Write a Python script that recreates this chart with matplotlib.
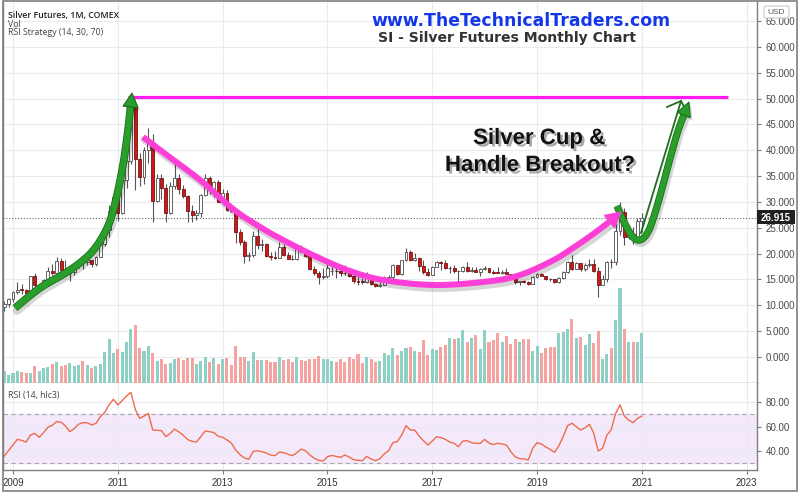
import numpy as np
import pandas as pd
import matplotlib
matplotlib.use('Agg')
import matplotlib.pyplot as plt
import matplotlib.patheffects as pe
from matplotlib.patches import Polygon, Rectangle, FancyBboxPatch

# ---------------- data ----------------
months = pd.date_range('2008-11-01', periods=147, freq='MS')

opens = [9.70, 10.25, 11.30, 12.60, 13.05, 13.00, 12.45, 15.60, 13.90, 14.00, 14.90, 16.65,
         16.30, 18.60, 16.90, 16.20, 16.45, 17.55, 18.65, 18.40, 18.75, 18.00, 19.40, 21.80,
         24.65, 28.20, 30.90, 27.90, 34.25, 37.90, 48.60, 38.30, 34.90, 40.10, 41.70, 30.10,
         34.70, 32.80, 27.90, 33.10, 34.60, 32.50, 31.20, 28.30, 27.40, 27.80, 31.30, 34.60,
         32.30, 33.80, 30.00, 31.80, 28.40, 28.30, 24.10, 22.30, 19.50, 19.70, 23.50, 21.70,
         21.90, 19.50, 19.40, 19.20, 21.30, 19.70, 19.00, 18.90, 21.00, 20.40, 19.50, 17.10,
         16.20, 15.50, 15.60, 16.60, 16.70, 16.60, 16.30, 16.20, 15.60, 14.70, 14.60, 14.50,
         15.50, 14.10, 13.80, 14.00, 14.90, 15.40, 17.80, 16.00, 18.70, 20.30, 18.70, 19.20,
         17.70, 16.50, 15.90, 17.50, 18.40, 18.20, 17.20, 17.30, 16.60, 16.70, 17.50, 16.70,
         16.75, 16.50, 17.00, 17.20, 16.40, 16.30, 16.25, 16.40, 16.10, 15.50, 14.60, 14.70,
         14.60, 14.20, 15.50, 16.10, 15.60, 15.10, 15.00, 14.60, 15.30, 16.40, 18.40, 17.00,
         18.10, 17.00, 17.90, 18.00, 16.60, 14.00, 15.10, 18.40, 18.30, 24.30, 28.00, 23.30,
         23.90, 22.60, 26.40]
highs = [10.90, 11.45, 12.75, 14.55, 14.10, 13.20, 15.70, 16.20, 14.20, 15.05, 17.45, 18.05,
         19.30, 19.20, 18.85, 16.60, 17.80, 18.85, 19.65, 19.35, 18.85, 19.55, 21.95, 24.90,
         29.35, 31.00, 31.30, 34.40, 38.15, 49.80, 48.70, 39.40, 40.60, 44.30, 43.20, 35.40,
         35.40, 33.50, 33.90, 37.50, 35.40, 33.20, 31.40, 29.40, 28.40, 31.50, 35.40, 35.00,
         34.10, 34.20, 32.50, 32.40, 29.40, 28.40, 24.70, 22.60, 20.30, 24.30, 25.10, 22.80,
         22.00, 20.30, 20.60, 22.20, 21.80, 20.30, 19.80, 21.30, 21.60, 20.80, 19.70, 17.70,
         16.70, 17.30, 18.50, 17.40, 17.30, 16.90, 17.80, 16.80, 15.80, 15.60, 15.20, 16.40,
         15.60, 14.40, 14.60, 15.60, 15.90, 18.00, 17.90, 18.80, 21.10, 20.70, 20.10, 19.30,
         18.80, 17.30, 17.60, 18.50, 18.50, 18.70, 17.60, 17.80, 16.90, 17.70, 18.30, 17.40,
         17.40, 17.20, 17.70, 17.30, 16.90, 17.40, 16.80, 17.30, 16.10, 15.60, 14.80, 14.90,
         14.70, 15.60, 16.20, 16.20, 15.60, 15.30, 15.00, 15.50, 16.60, 18.60, 19.75, 18.30,
         18.20, 18.10, 18.90, 18.90, 17.50, 15.80, 18.60, 18.90, 26.20, 29.90, 28.90, 25.60,
         25.20, 26.90, 27.90]
lows = [8.85, 9.60, 10.60, 12.20, 12.10, 11.80, 12.40, 13.40, 12.65, 13.70, 14.80, 15.85,
        16.20, 16.60, 15.90, 14.65, 15.90, 17.30, 17.05, 17.90, 17.35, 17.60, 19.30, 21.50,
        23.30, 26.80, 26.40, 27.70, 32.80, 37.40, 32.30, 33.00, 33.40, 37.50, 26.10, 29.90,
        30.60, 26.20, 27.60, 32.60, 31.60, 30.70, 26.10, 26.20, 26.60, 27.10, 31.20, 31.50,
        30.90, 29.90, 29.90, 28.30, 28.00, 22.00, 21.60, 18.20, 18.60, 19.30, 20.90, 20.60,
        19.40, 18.80, 18.90, 19.10, 19.60, 18.90, 18.70, 18.70, 20.30, 19.30, 16.90, 15.80,
        14.20, 15.10, 15.30, 15.90, 15.30, 15.70, 15.90, 15.50, 14.30, 13.90, 14.10, 14.40,
        13.90, 13.60, 13.60, 13.90, 14.60, 14.80, 15.80, 15.90, 18.60, 18.50, 18.60, 16.70,
        16.00, 15.60, 15.80, 17.40, 16.80, 17.10, 16.20, 16.20, 14.30, 16.40, 16.50, 16.50,
        16.50, 15.60, 16.90, 16.20, 16.10, 16.20, 16.00, 16.00, 15.30, 14.20, 13.90, 14.30,
        13.90, 14.10, 15.30, 15.60, 14.90, 14.80, 14.30, 14.30, 15.00, 16.20, 16.90, 17.00,
        16.60, 16.60, 17.40, 16.50, 11.65, 13.90, 14.60, 17.30, 17.80, 23.60, 21.70, 22.90,
        21.90, 22.40, 24.20]
closes = [10.25, 11.30, 12.60, 13.05, 13.00, 12.45, 15.60, 13.90, 14.00, 14.90, 16.65, 16.30,
          18.60, 16.90, 16.20, 16.45, 17.55, 18.65, 18.40, 18.75, 18.00, 19.40, 21.80, 24.65,
          28.20, 30.90, 27.90, 34.25, 37.90, 48.60, 38.30, 34.90, 40.10, 41.70, 30.10, 34.70,
          32.80, 27.90, 33.10, 34.60, 32.50, 31.20, 28.30, 27.40, 27.80, 31.30, 34.60, 32.30,
          33.80, 30.00, 31.80, 28.40, 28.30, 24.10, 22.30, 19.50, 19.70, 23.50, 21.70, 21.90,
          19.50, 19.40, 19.20, 21.30, 19.70, 19.00, 18.90, 21.00, 20.40, 19.50, 17.10, 16.20,
          15.50, 15.60, 17.20, 16.70, 16.60, 16.30, 16.20, 15.60, 14.70, 14.60, 14.50, 15.50,
          14.10, 13.80, 14.00, 14.90, 15.40, 17.80, 16.00, 18.70, 20.30, 18.70, 19.20, 17.70,
          16.50, 15.90, 17.50, 18.40, 18.20, 17.20, 17.30, 16.60, 16.70, 17.50, 16.70, 16.75,
          16.50, 17.00, 17.20, 16.40, 16.30, 16.25, 16.40, 16.10, 15.50, 14.60, 14.70, 14.60,
          14.20, 15.50, 16.10, 15.60, 15.10, 15.00, 14.60, 15.30, 16.40, 18.40, 17.00, 18.10,
          17.00, 17.90, 18.00, 16.60, 14.00, 15.10, 18.40, 18.30, 24.30, 28.00, 23.30, 23.90,
          22.60, 26.40, 26.915]
volume = [37, 23, 30, 35, 32, 30, 30, 50, 35, 45, 47, 56, 63, 52, 54, 61, 52, 54, 65, 55,
          45, 52, 56, 93, 132, 90, 102, 93, 122, 163, 173, 105, 95, 111, 89, 67, 71, 57, 61, 73,
          76, 69, 75, 76, 56, 65, 77, 63, 75, 56, 71, 74, 54, 112, 79, 77, 67, 93, 70, 70,
          68, 62, 64, 78, 70, 72, 63, 78, 70, 67, 72, 73, 80, 71, 72, 65, 64, 71, 62, 77,
          72, 86, 60, 78, 73, 63, 67, 89, 84, 104, 84, 97, 106, 109, 96, 94, 130, 84, 102, 98,
          108, 113, 135, 132, 135, 159, 124, 135, 144, 102, 159, 122, 130, 150, 124, 142, 116, 133, 124, 132,
          133, 95, 110, 91, 105, 107, 107, 149, 152, 163, 192, 134, 139, 115, 146, 119, 157, 71, 88, 104,
          189, 284, 163, 122, 124, 124, 150]
rsi = [35.9, 40.5, 44.9, 49.5, 48.7, 47.3, 53.0, 54.4, 51.2, 55.0, 59.4, 61.0, 64.0, 63.6, 60.4,
       55.8, 58.2, 61.8, 63.1, 63.1, 61.2, 62.6, 68.0, 71.5, 77.8, 82.2, 77.6, 81.1, 84.9, 87.9,
       74.0, 66.6, 68.5, 70.7, 57.1, 56.9, 56.6, 51.7, 54.4, 57.9, 55.5, 52.8, 49.3, 47.9, 47.3,
       51.7, 56.3, 55.8, 55.0, 52.0, 51.2, 49.0, 46.5, 40.8, 37.0, 34.3, 33.2, 39.7, 40.2, 39.4,
       38.4, 36.7, 36.2, 39.2, 38.6, 37.3, 36.2, 38.6, 41.6, 40.2, 36.7, 34.0, 32.4, 31.8, 35.3,
       36.4, 35.6, 34.8, 36.7, 35.0, 32.9, 32.4, 32.1, 35.6, 33.5, 32.1, 33.7, 37.6, 40.2, 46.8,
       47.6, 53.0, 60.7, 57.1, 57.1, 52.2, 48.4, 44.9, 48.1, 51.7, 50.9, 49.5, 47.3, 46.3, 43.5,
       48.1, 48.4, 46.8, 46.3, 46.3, 49.5, 46.5, 45.2, 46.3, 45.7, 44.9, 39.4, 35.3, 33.7, 33.5,
       32.7, 42.2, 46.8, 45.7, 43.3, 41.4, 38.9, 44.3, 51.7, 60.7, 62.6, 59.9, 57.1, 59.0, 61.8,
       54.4, 40.0, 42.2, 53.0, 57.4, 70.7, 77.6, 68.5, 65.3, 63.1, 66.6, 68.5]

price_ticks = [0, 5, 10, 15, 20, 25, 30, 35, 40, 45, 50, 55, 60, 65]
rsi_ticks = [40, 60, 80]
year_ticks = [2009, 2011, 2013, 2015, 2017, 2019, 2021, 2023]
last_price = 26.915
target_level = 50.0

# ---------------- figure ----------------
W, H = 800, 494
fig = plt.figure(figsize=(8, 4.94), dpi=100)
fig.patch.set_facecolor('white')


def frac(x0, y0, x1, y1):
    return [x0 / W, 1 - y1 / H, (x1 - x0) / W, (y1 - y0) / H]


ax = fig.add_axes(frac(3, 2, 757, 383))
axr = fig.add_axes(frac(3, 383, 757, 470), sharex=ax)

x = np.array(months.year + (months.month - 1) / 12.0)
o = np.array(opens); h = np.array(highs); l = np.array(lows); c = np.array(closes)
up = c >= o

GRID = '#e8ecf2'
SPINE = '#7f7f7f'

# volume overlay (twin axes, created first so the price axis can be put right afterwards)
axv = ax.twinx()
axv.bar(x, volume, width=0.058, color=np.where(up, '#8ed0c6', '#f5a3a1'), zorder=1)
axv.set_ylim(0, max(volume) / 0.2485)
axv.axis('off')

# candles
ax.vlines(x, l, h, color='#555555', lw=0.8, zorder=2)
body_b = np.minimum(o, c)
body_h = np.maximum(np.abs(c - o), 0.12)
ax.bar(x, body_h, bottom=body_b, width=0.056,
       color=np.where(up, '#ffffff', '#cc1a1a'),
       edgecolor=np.where(up, '#4a4a4a', '#7a1010'), linewidth=0.6, zorder=3)

ax.set_xlim(2008.809, 2023.198)
ax.set_ylim(-5.03, 68.7)
ax.yaxis.tick_right()
ax.yaxis.set_label_position('right')
ax.set_yticks(price_ticks)
ax.set_yticklabels([f'{v:.3f}' for v in price_ticks], family='Liberation Sans')
ax.tick_params(axis='y', which='both', left=False, labelleft=False, right=True, labelright=True,
               length=3, color='#777777', labelsize=7, labelcolor='#4a4a4a', pad=3)
ax.set_xticks(year_ticks)
ax.tick_params(axis='x', bottom=False, labelbottom=False)
ax.grid(True, color=GRID, lw=0.8, zorder=0)
ax.set_axisbelow(True)
ax.axhline(last_price, color='#666666', lw=0.8, ls=(0, (1, 1.6)), zorder=1.5)
ax.spines['top'].set_visible(False)
for s in ['left', 'right', 'bottom']:
    ax.spines[s].set_color(SPINE)
    ax.spines[s].set_linewidth(1.0)

# RSI panel
axr.set_ylim(24.5, 95.5)
axr.axhspan(30, 70, color='#f4e8fb', zorder=0)
for lev in (30, 70):
    axr.axhline(lev, color='#a8a8a8', lw=0.8, ls=(0, (4, 3)), zorder=1)
axr.plot(x, rsi, color='#ef6b4c', lw=1.0, zorder=3)
axr.yaxis.tick_right()
axr.set_yticks(rsi_ticks)
axr.set_yticklabels([f'{v:.2f}' for v in rsi_ticks], family='Liberation Sans')
axr.tick_params(axis='y', length=3, color='#777777', labelsize=7, labelcolor='#4a4a4a', pad=3)
axr.set_xticks(year_ticks)
axr.set_xticklabels([str(y) for y in year_ticks], family='Liberation Sans')
axr.tick_params(axis='x', length=3, color='#777777', labelsize=7, labelcolor='#333333', pad=3)
axr.grid(True, color=GRID, lw=0.8, zorder=0.5)
axr.set_axisbelow(True)
axr.spines['top'].set_visible(False)
for s in ['left', 'right', 'bottom']:
    axr.spines[s].set_color(SPINE)
    axr.spines[s].set_linewidth(1.0)

# ---------------- overlay (pixel coordinates) ----------------
ov = fig.add_axes([0, 0, 1, 1])
ov.set_xlim(0, W)
ov.set_ylim(H, 0)
ov.axis('off')
ov.patch.set_alpha(0)

ov.add_patch(Rectangle((3, 1), 794, 490, fill=False, ec='#808080', lw=1.2))


def catmull(pts, n=14):
    P = np.vstack([pts[0], pts, pts[-1]])
    out = []
    for i in range(1, len(P) - 2):
        p0, p1, p2, p3 = P[i - 1], P[i], P[i + 1], P[i + 2]
        t = np.linspace(0, 1, n, endpoint=False)[:, None]
        seg = 0.5 * ((2 * p1) + (-p0 + p2) * t + (2 * p0 - 5 * p1 + 4 * p2 - p3) * t ** 2
                     + (-p0 + 3 * p1 - 3 * p2 + p3) * t ** 3)
        out.append(seg)
    out.append(P[-2][None])
    return np.vstack(out)


def arrow(pts, color, lw_px, hl, hw, edge=None, shadow=True):
    cv = catmull(np.array(pts, float))
    tip = cv[-1]
    dist = np.hypot(*(cv - tip).T)
    idx = np.where(dist >= hl)[0][-1]
    u = (tip - cv[idx]) / np.linalg.norm(tip - cv[idx])
    base = tip - u * hl
    perp = np.array([-u[1], u[0]])
    tri = np.array([tip, base + perp * hw / 2, base - perp * hw / 2])
    line = np.vstack([cv[:idx + 1], base])
    lw = lw_px * 0.72
    if shadow:
        ov.plot(line[:, 0] + 2, line[:, 1] + 3, color='#000000', alpha=0.16, lw=lw + 1.5,
                solid_capstyle='round', zorder=1)
        ov.add_patch(Polygon(tri + [2, 3], closed=True, fc='#000000', alpha=0.16, ec='none', zorder=1))
    eff = [pe.Stroke(linewidth=lw + 1.2, foreground=edge), pe.Normal()] if edge else None
    ov.plot(line[:, 0], line[:, 1], color=color, lw=lw, solid_capstyle='butt',
            path_effects=eff, zorder=2)
    ov.add_patch(Polygon(tri, closed=True, fc=color, ec=edge or color, lw=0.8, zorder=3))


# horizontal target line
ov.plot([128, 728], [97, 97], color='#ff1cf0', lw=2.3, zorder=2, solid_capstyle='butt')

# green rally arrow
arrow([(15, 308), (40, 288), (67, 272), (87, 257), (100, 241), (110, 221), (117, 195),
       (123, 165), (128, 130), (132, 93)], '#2a9e2a', 6, 14, 15, edge='#1c6e1c')

# magenta cup
arrow([(143, 137), (160, 150), (200, 180), (233, 209), (260, 227), (283, 240), (317, 257),
       (350, 271), (383, 280), (433, 285), (483, 282), (517, 276), (550, 262), (573, 248),
       (600, 229), (621, 212)], '#fd3fd7', 6, 15, 16)

# green handle arrow
arrow([(617, 206), (624, 222), (632, 236), (640, 240), (648, 232), (655, 213), (663, 185),
       (671, 155), (679, 128), (689, 102)], '#2a9e2a', 5.5, 14, 14, edge='#1c6e1c')

# thin projection arrow
ov.plot([641, 681], [233, 101], color='#1e6e1e', lw=1.3, zorder=2)
ov.plot([667, 681, 686], [107, 101, 110], color='#1e6e1e', lw=1.3, zorder=2)

# titles
ov.text(521, 26, 'www.TheTechnicalTraders.com', color='#1437e8', fontsize=12.4,
        fontweight='bold', family='DejaVu Sans', ha='center', va='baseline')
ov.text(507, 42, 'SI - Silver Futures Monthly Chart', color='#333333', fontsize=10.1,
        fontweight='bold', family='DejaVu Sans', ha='center', va='baseline')

shadow_fx = [pe.withSimplePatchShadow(offset=(1.8, -1.8), shadow_rgbFace='#444444', alpha=0.45)]
ov.text(539, 144, 'Silver Cup &', color='#111111', fontsize=16, fontweight='bold',
        family='Liberation Sans', ha='center', va='baseline', path_effects=shadow_fx)
ov.text(540, 171, 'Handle Breakout?', color='#111111', fontsize=16, fontweight='bold',
        family='Liberation Sans', ha='center', va='baseline', path_effects=shadow_fx)

# legend texts
ov.text(8, 17.7, 'Silver Futures, 1M, COMEX', color='#222222', fontsize=6.3,
        fontweight='semibold', family='Open Sans', va='baseline')
ov.text(8, 26.7, 'Vol', color='#444444', fontsize=6.3, family='Open Sans', va='baseline')
ov.text(8, 35.3, 'RSI Strategy (14, 30, 70)', color='#444444', fontsize=6.3,
        family='Open Sans', va='baseline')
ov.text(8, 398.3, 'RSI (14, hlc3)', color='#444444', fontsize=6.3, family='Open Sans',
        va='baseline')

# last price label
ov.add_patch(Rectangle((757, 210), 38, 14, fc='#1f1f1f', ec='none', zorder=5))
ov.text(776, 217.5, f'{last_price:.3f}', color='white', fontsize=7, fontweight='bold',
        family='Liberation Sans', ha='center', va='center', zorder=6)

# USD box
ov.add_patch(FancyBboxPatch((764, 6), 25, 12, boxstyle='round,pad=0,rounding_size=2',
                            fc='white', ec='#c8c8c8', lw=0.8, zorder=5))
ov.text(776.5, 12.3, 'USD', color='#555555', fontsize=6, family='Liberation Sans',
        ha='center', va='center', zorder=6)

fig.savefig('out.png', dpi=100, facecolor='white')
